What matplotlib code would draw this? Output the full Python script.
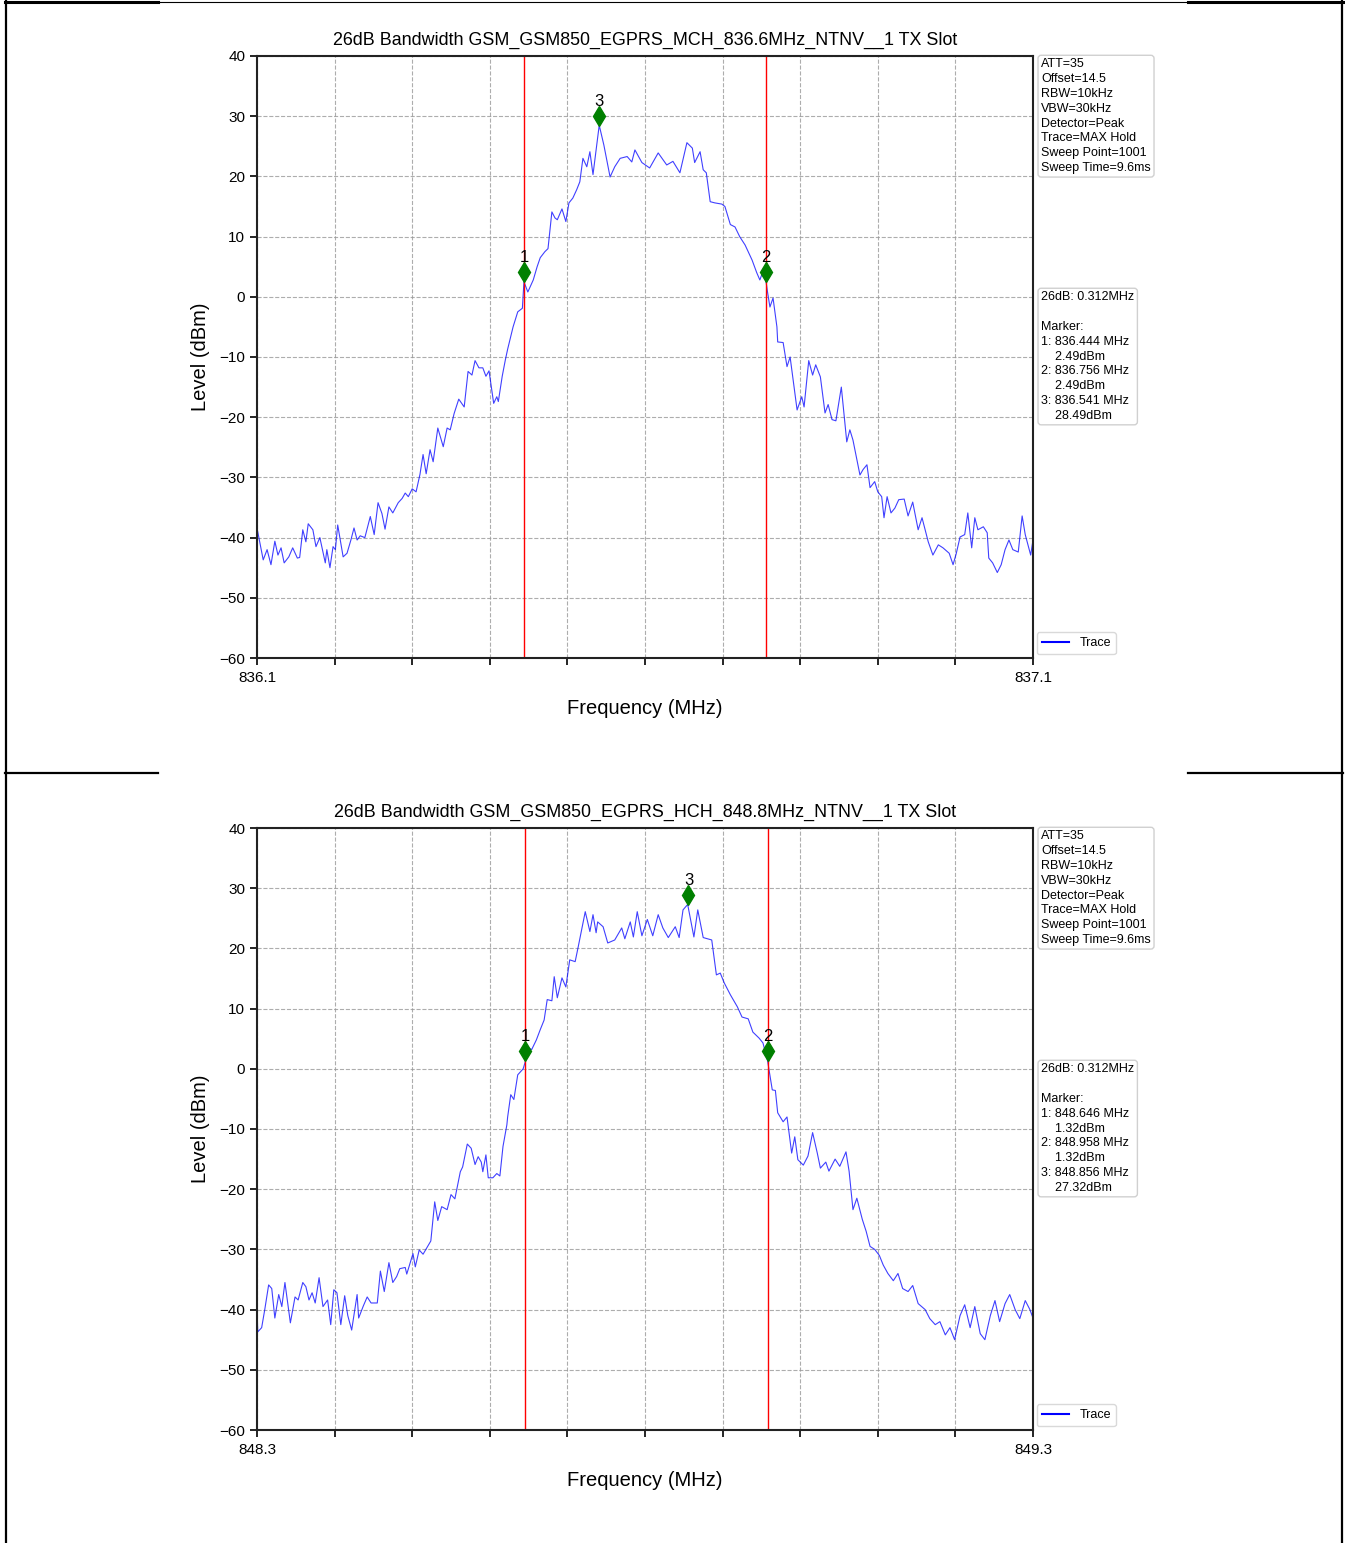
import matplotlib
matplotlib.use("Agg")
import matplotlib.pyplot as plt
from matplotlib.lines import Line2D

plt.rcParams['font.family'] = ['Liberation Sans', 'DejaVu Sans']

W, H = 1345, 1543

# ---- data ----
mch_title = "26dB Bandwidth GSM_GSM850_EGPRS_MCH_836.6MHz_NTNV__1 TX Slot"
mch_span = (836.1, 837.1)
mch_freq = [
    836.100, 836.108, 836.113, 836.118, 836.123, 836.127, 836.131, 836.135, 836.141, 836.146,
    836.152, 836.155, 836.159, 836.163, 836.166, 836.172, 836.176, 836.181, 836.188, 836.190,
    836.194, 836.198, 836.201, 836.204, 836.211, 836.216, 836.221, 836.225, 836.229, 836.233,
    836.239, 836.246, 836.251, 836.256, 836.261, 836.265, 836.270, 836.275, 836.282, 836.287,
    836.291, 836.295, 836.300, 836.305, 836.310, 836.314, 836.318, 836.323, 836.327, 836.333,
    836.340, 836.345, 836.349, 836.354, 836.360, 836.367, 836.372, 836.377, 836.381, 836.386,
    836.391, 836.395, 836.399, 836.405, 836.409, 836.411, 836.416, 836.420, 836.423, 836.430,
    836.436, 836.442, 836.444, 836.449, 836.456, 836.461, 836.465, 836.471, 836.475, 836.480,
    836.484, 836.487, 836.493, 836.498, 836.502, 836.507, 836.512, 836.516, 836.520, 836.525,
    836.529, 836.533, 836.541, 836.547, 836.555, 836.561, 836.568, 836.577, 836.583, 836.587,
    836.596, 836.606, 836.617, 836.628, 836.636, 836.645, 836.654, 836.661, 836.664, 836.671,
    836.675, 836.679, 836.684, 836.690, 836.699, 836.703, 836.710, 836.716, 836.722, 836.729,
    836.738, 836.744, 836.748, 836.752, 836.756, 836.758, 836.761, 836.765, 836.770, 836.771,
    836.778, 836.783, 836.787, 836.796, 836.802, 836.805, 836.811, 836.816, 836.820, 836.826,
    836.832, 836.836, 836.841, 836.846, 836.853, 836.860, 836.864, 836.868, 836.877, 836.881,
    836.886, 836.890, 836.896, 836.900, 836.905, 836.908, 836.912, 836.917, 836.922, 836.927,
    836.934, 836.939, 836.945, 836.952, 836.957, 836.961, 836.965, 836.971, 836.978, 836.984,
    836.992, 836.997, 837.001, 837.006, 837.012, 837.016, 837.021, 837.025, 837.029, 837.036,
    837.041, 837.043, 837.048, 837.054, 837.059, 837.064, 837.069, 837.074, 837.081, 837.086,
    837.090, 837.097, 837.100,
]
mch_level = [
    -38.4, -43.7, -42.0, -44.5, -40.6, -42.9, -41.7, -44.2, -43.2, -41.7,
    -43.4, -43.3, -38.7, -40.7, -37.7, -38.7, -41.5, -40.0, -44.2, -42.0,
    -45.0, -41.5, -42.0, -37.9, -43.2, -42.6, -40.4, -38.4, -40.4, -39.7,
    -40.0, -36.5, -39.5, -34.2, -36.0, -38.6, -34.9, -35.9, -34.2, -33.5,
    -32.6, -33.2, -31.9, -32.4, -29.5, -26.2, -29.4, -25.4, -27.4, -21.8,
    -24.9, -21.8, -22.1, -19.4, -17.0, -18.3, -12.4, -13.0, -10.6, -11.8,
    -11.8, -13.2, -12.3, -17.7, -16.6, -17.4, -13.2, -10.5, -8.7, -5.0,
    -2.5, -1.9, 2.5, 0.8, 2.8, 5.0, 6.5, 7.5, 8.0, 14.1,
    13.1, 12.8, 14.6, 12.5, 15.6, 16.4, 17.8, 19.1, 23.0, 21.6,
    24.1, 20.3, 28.5, 25.2, 19.9, 21.6, 23.0, 23.3, 22.4, 24.4,
    22.3, 21.4, 23.9, 21.9, 22.5, 20.6, 25.6, 24.7, 22.3, 24.1,
    21.1, 20.6, 15.8, 15.6, 15.4, 15.0, 12.0, 11.6, 10.0, 8.6,
    6.1, 4.0, 2.8, 4.2, 2.5, 0.7, -1.7, -0.2, -5.0, -7.5,
    -7.6, -11.6, -10.0, -18.8, -16.6, -18.3, -10.6, -13.0, -11.3, -13.3,
    -19.3, -17.9, -20.4, -20.6, -15.0, -24.1, -22.1, -23.8, -29.6, -28.7,
    -27.9, -31.7, -30.7, -32.4, -33.2, -36.7, -33.2, -35.9, -35.1, -33.7,
    -33.6, -36.4, -34.1, -38.7, -36.7, -38.7, -40.7, -42.9, -41.2, -41.7,
    -42.6, -44.5, -42.7, -39.9, -39.5, -35.9, -41.7, -36.7, -38.7, -38.2,
    -39.2, -43.4, -44.2, -45.8, -44.5, -42.0, -40.4, -42.0, -42.4, -36.4,
    -39.5, -42.9, -40.4,
]
mch_marker_freq = [836.444, 836.756, 836.541]
mch_marker_level = [2.49, 2.49, 28.49]

hch_title = "26dB Bandwidth GSM_GSM850_EGPRS_HCH_848.8MHz_NTNV__1 TX Slot"
hch_span = (848.3, 849.3)
hch_freq = [
    848.300, 848.301, 848.306, 848.310, 848.315, 848.319, 848.323, 848.328, 848.332, 848.336,
    848.343, 848.349, 848.353, 848.359, 848.363, 848.367, 848.371, 848.375, 848.380, 848.385,
    848.391, 848.395, 848.399, 848.403, 848.408, 848.413, 848.417, 848.422, 848.429, 848.431,
    848.437, 848.442, 848.447, 848.455, 848.459, 848.464, 848.470, 848.475, 848.480, 848.484,
    848.491, 848.493, 848.501, 848.504, 848.509, 848.514, 848.519, 848.524, 848.529, 848.533,
    848.538, 848.545, 848.550, 848.555, 848.562, 848.565, 848.571, 848.576, 848.581, 848.585,
    848.589, 848.591, 848.595, 848.598, 848.604, 848.609, 848.613, 848.617, 848.622, 848.623,
    848.627, 848.631, 848.636, 848.643, 848.646, 848.649, 848.654, 848.660, 848.665, 848.670,
    848.674, 848.680, 848.683, 848.687, 848.693, 848.698, 848.703, 848.710, 848.714, 848.723,
    848.729, 848.733, 848.737, 848.739, 848.746, 848.752, 848.761, 848.770, 848.774, 848.781,
    848.785, 848.790, 848.796, 848.803, 848.810, 848.817, 848.823, 848.830, 848.839, 848.844,
    848.849, 848.855, 848.863, 848.868, 848.875, 848.886, 848.892, 848.897, 848.902, 848.910,
    848.919, 848.925, 848.933, 848.939, 848.947, 848.952, 848.958, 848.964, 848.968, 848.971,
    848.978, 848.983, 848.989, 848.993, 848.997, 849.004, 849.010, 849.016, 849.022, 849.026,
    849.033, 849.037, 849.045, 849.051, 849.059, 849.063, 849.068, 849.073, 849.080, 849.085,
    849.090, 849.096, 849.102, 849.107, 849.113, 849.120, 849.126, 849.132, 849.139, 849.145,
    849.152, 849.161, 849.167, 849.174, 849.180, 849.187, 849.193, 849.199, 849.206, 849.212,
    849.219, 849.225, 849.232, 849.238, 849.245, 849.251, 849.257, 849.264, 849.270, 849.277,
    849.283, 849.290, 849.296, 849.300,
]
hch_level = [
    -39.9, -43.7, -43.0, -40.0, -35.9, -36.5, -41.4, -37.5, -39.5, -35.5,
    -42.2, -37.9, -38.4, -35.5, -36.2, -38.4, -37.2, -38.9, -34.7, -39.5,
    -38.4, -42.5, -36.7, -37.2, -42.5, -37.7, -41.0, -43.4, -37.5, -41.4,
    -39.4, -37.9, -38.9, -38.9, -33.6, -37.0, -32.2, -35.5, -34.5, -33.2,
    -33.0, -34.1, -30.7, -32.9, -30.1, -30.8, -29.7, -28.6, -22.1, -25.2,
    -22.9, -23.4, -20.9, -21.6, -17.1, -16.3, -12.5, -13.2, -15.9, -14.6,
    -15.5, -17.1, -14.3, -18.1, -18.1, -17.4, -17.8, -12.9, -9.3, -8.0,
    -4.3, -5.1, -1.0, 0.0, 1.3, 3.5, 3.2, 4.8, 6.5, 8.1,
    11.5, 11.3, 15.3, 11.8, 15.1, 13.6, 18.1, 17.8, 20.3, 26.1,
    22.8, 25.6, 22.6, 24.4, 23.6, 20.9, 21.4, 23.4, 21.6, 24.4,
    21.9, 26.1, 22.1, 24.8, 22.1, 25.6, 23.4, 21.8, 23.6, 21.8,
    26.4, 27.3, 21.9, 26.4, 21.8, 21.4, 15.6, 15.9, 14.3, 12.3,
    10.3, 8.6, 8.3, 6.1, 5.1, 4.3, 1.3, -3.5, -3.6, -7.3,
    -8.8, -8.0, -14.0, -11.3, -15.1, -16.0, -14.5, -10.6, -14.0, -16.5,
    -15.5, -17.0, -15.0, -16.2, -13.8, -17.0, -23.4, -21.5, -25.0, -27.0,
    -29.5, -30.0, -31.0, -32.6, -34.0, -35.2, -34.0, -36.5, -37.0, -36.0,
    -39.0, -40.0, -41.5, -42.5, -42.0, -44.2, -43.0, -45.0, -41.0, -39.2,
    -43.0, -39.5, -44.0, -45.0, -41.0, -38.5, -42.0, -39.0, -37.5, -40.0,
    -41.5, -38.5, -40.0, -41.4,
]
hch_marker_freq = [848.646, 848.958, 848.856]
hch_marker_level = [1.32, 1.32, 27.32]

settings_lines = ["ATT=35", "Offset=14.5", "RBW=10kHz", "VBW=30kHz", "Detector=Peak",
                  "Trace=MAX Hold", "Sweep Point=1001", "Sweep Time=9.6ms"]
obw_text = "26dB: 0.312MHz"
y_ticks = [40, 30, 20, 10, 0, -10, -20, -30, -40, -50, -60]
marker_lift = 1.6   # markers sit a little above the trace in the source plot


def fx(px):
    return px / W


def fy(py):
    return 1 - py / H


def draw_panel(fig, top_px, title, span, freq, level, mk_freq, mk_level):
    ax = fig.add_axes([fx(257), fy(top_px + 602), fx(776), 602 / H])
    ax.plot(freq, level, color='blue', lw=0.8, alpha=0.75, label='Trace')
    for f in mk_freq[:2]:
        ax.axvline(f, color='red', lw=1)
    for i, (f, lv) in enumerate(zip(mk_freq, mk_level)):
        ax.plot(f, lv + marker_lift, 'd', color='green', markersize=10)
        ax.annotate(str(i + 1), (f, lv + marker_lift), xytext=(0, 5),
                    textcoords='offset points', ha='center', va='bottom', fontsize=12)

    ax.set_xlim(*span)
    ax.set_ylim(-60, 40)
    xt = [span[0] + 0.1 * k for k in range(11)]
    ax.set_xticks(xt)
    ax.set_xticklabels([f"{span[0]:.1f}"] + [""] * 9 + [f"{span[1]:.1f}"])
    ax.set_yticks(y_ticks)
    ax.tick_params(axis='both', labelsize=11, length=5, width=1.2, direction='out')
    ax.tick_params(axis='x', pad=4.5)
    ax.grid(True, linestyle='--', color='#999999', lw=0.8, alpha=0.8)
    for s in ax.spines.values():
        s.set_linewidth(1.5)
        s.set_color('#222222')
    ax.set_title(title, fontsize=12.9, pad=8)
    ax.set_xlabel("Frequency (MHz)", fontsize=14.5, labelpad=10)
    ax.set_ylabel("Level (dBm)", fontsize=14.5, labelpad=7)

    box = dict(boxstyle='round,pad=0.25', fc='white', ec='#d0d0d0', lw=1)
    ax.text(1.0105, 0.996, "\n".join(settings_lines), transform=ax.transAxes,
            fontsize=9, va='top', ha='left', linespacing=1.31, bbox=box)
    mk_lines = [obw_text, "", "Marker:"]
    for i, (f, lv) in enumerate(zip(mk_freq, mk_level)):
        mk_lines.append(f"{i + 1}: {f:.3f} MHz")
        mk_lines.append(f"    {lv:.2f}dBm")
    ax.text(1.0105, 0.609, "\n".join(mk_lines), transform=ax.transAxes,
            fontsize=9, va='top', ha='left', linespacing=1.31, bbox=box)
    leg = ax.legend(loc='lower left', bbox_to_anchor=(1.0, 0.0), fontsize=9,
                    borderaxespad=0.3, handlelength=2.2, fancybox=True)
    leg.get_frame().set_edgecolor('#d0d0d0')
    for h in leg.get_lines():
        h.set_linewidth(1.5)
        h.set_alpha(1.0)
    return ax


fig = plt.figure(figsize=(W / 100, H / 100), dpi=100)

draw_panel(fig, 56, mch_title, mch_span, mch_freq, mch_level, mch_marker_freq, mch_marker_level)
draw_panel(fig, 828, hch_title, hch_span, hch_freq, hch_level, hch_marker_freq, hch_marker_level)

# document table borders around the two pictures
def border(x0, x1, y0, y1, lw):
    fig.add_artist(Line2D([fx(x0), fx(x1)], [fy(y0), fy(y1)], color='black', lw=lw,
                          transform=fig.transFigure))

border(6, 6, 0, H, 1.6)
border(1342, 1342, 0, H, 1.6)
border(5, 158, 2, 2, 2.2)
border(158, 1188, 2, 2, 0.8)
border(1188, 1343, 2, 2, 2.2)
border(5, 158, 773, 773, 1.6)
border(1188, 1343, 773, 773, 1.6)

fig.savefig("out.png", dpi=100)
